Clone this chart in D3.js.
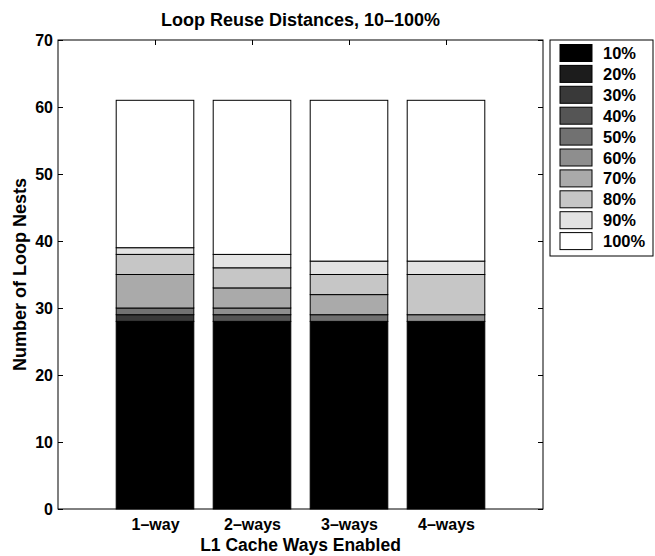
<!DOCTYPE html>
<html><head><meta charset="utf-8">
<script src="https://cdn.jsdelivr.net/npm/d3@7"></script>
<style>html,body{margin:0;padding:0;background:#fff;}svg{display:block;font-family:"Liberation Sans",Arial,sans-serif;font-weight:bold;}</style>
</head><body>
<svg id="c" width="655" height="556"></svg>
<script>
const categories = ["1–way", "2–ways", "3–ways", "4–ways"];
const seriesNames = ["10%", "20%", "30%", "40%", "50%", "60%", "70%", "80%", "90%", "100%"];
// counts per series for each category
const s10  = [28, 28, 28, 28];
const s20  = [0, 0, 0, 0];
const s30  = [1, 0, 0, 0];
const s40  = [0, 1, 0, 0];
const s50  = [1, 0, 1, 0];
const s60  = [0, 1, 0, 1];
const s70  = [5, 3, 3, 0];
const s80  = [3, 3, 3, 6];
const s90  = [1, 2, 2, 2];
const s100 = [22, 23, 24, 24];
const yTicks = [0, 10, 20, 30, 40, 50, 60, 70];
const title = "Loop Reuse Distances, 10–100%";
const xLabel = "L1 Cache Ways Enabled";
const yLabel = "Number of Loop Nests";

const series = [s10, s20, s30, s40, s50, s60, s70, s80, s90, s100];
const table = categories.map((c, i) => {
  const row = {cat: c};
  seriesNames.forEach((n, j) => row[n] = series[j][i]);
  return row;
});
const stacked = d3.stack().keys(seriesNames)(table);
const color = d3.scaleOrdinal().domain(seriesNames)
  .range(seriesNames.map((_, i) => { const v = Math.round(i / 9 * 255); return d3.rgb(v, v, v).toString(); }));

const svg = d3.select("#c");
const L = 58, R = 543, T = 40, B = 509;
const x = d3.scalePoint().domain(categories).range([L, R]).padding(1);
const barW = x.step() * 0.8;
const y = d3.scaleLinear().domain([0, 70]).range([B, T]);

// bars
const g = svg.append("g");
stacked.forEach(layer => {
  g.append("g").selectAll("rect").data(layer).join("rect")
    .attr("x", d => x(d.data.cat) - barW / 2)
    .attr("width", barW)
    .attr("y", d => y(d[1]))
    .attr("height", d => y(d[0]) - y(d[1]))
    .attr("fill", color(layer.key))
    .attr("stroke", "#000")
    .attr("stroke-width", 1);
});

// axes box
svg.append("rect").attr("x", L).attr("y", T).attr("width", R - L).attr("height", B - T)
  .attr("fill", "none").attr("stroke", "#000").attr("stroke-width", 1);

const fs = "16px";
const yAxisL = svg.append("g").attr("transform", `translate(${L},0)`)
  .call(d3.axisLeft(y).tickValues(yTicks).tickSize(-5).tickPadding(5));
const yAxisR = svg.append("g").attr("transform", `translate(${R},0)`)
  .call(d3.axisRight(y).tickValues(yTicks).tickSize(-5).tickFormat(""));
const xAxisB = svg.append("g").attr("transform", `translate(0,${B})`)
  .call(d3.axisBottom(x).tickSize(-5).tickPadding(10));
const xAxisT = svg.append("g").attr("transform", `translate(0,${T})`)
  .call(d3.axisTop(x).tickSize(-5).tickFormat(""));
[yAxisL, yAxisR, xAxisB, xAxisT].forEach(a => {
  a.select(".domain").remove();
  a.selectAll("line").attr("stroke", "#000");
  a.selectAll("text").attr("font-family", "Liberation Sans, Arial, sans-serif")
    .attr("font-weight", "bold").attr("font-size", fs).attr("fill", "#000");
});

// title and labels
svg.append("text").attr("x", (L + R) / 2).attr("y", 26).attr("text-anchor", "middle")
  .attr("font-size", "18px").text(title);
svg.append("text").attr("x", (L + R) / 2).attr("y", 551).attr("text-anchor", "middle")
  .attr("font-size", "17.5px").text(xLabel);
svg.append("text").attr("transform", `translate(26,${(T + B) / 2}) rotate(-90)`)
  .attr("text-anchor", "middle").attr("font-size", "18px").text(yLabel);

// legend
const lg = svg.append("g");
lg.append("rect").attr("x", 550).attr("y", 40).attr("width", 103).attr("height", 216)
  .attr("fill", "#fff").attr("stroke", "#000").attr("stroke-width", 1);
const items = lg.selectAll("g.item").data(seriesNames).join("g")
  .attr("transform", (d, i) => `translate(0,${53 + i * 20.9})`);
items.append("rect").attr("x", 560).attr("y", -8.5).attr("width", 32).attr("height", 17)
  .attr("fill", d => color(d)).attr("stroke", "#000").attr("stroke-width", 1);
items.append("text").attr("x", 603).attr("y", 6).attr("font-size", "16.5px").text(d => d);
</script>
</body></html>
